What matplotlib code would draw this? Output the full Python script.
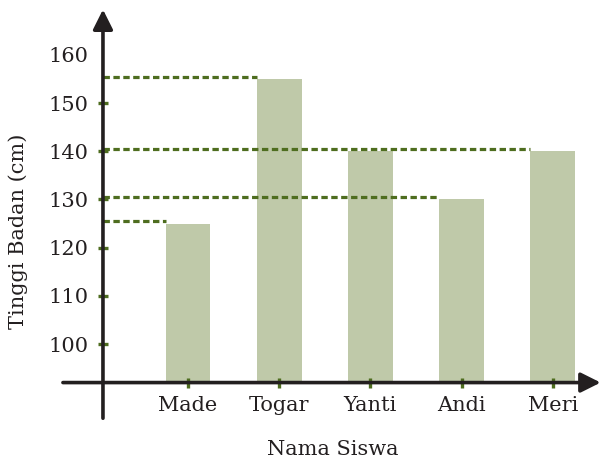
import matplotlib.pyplot as plt
import numpy as np

names = ['Made', 'Togar', 'Yanti', 'Andi', 'Meri']
heights = [125, 155, 140, 130, 140]
yticks = [100, 110, 120, 130, 140, 150, 160]

green = '#4e6d1f'
bar_col = '#bfc9a9'
ink = '#231f20'
plt.rcParams['font.family'] = 'DejaVu Serif'

fig = plt.figure(figsize=(6.01, 4.62), dpi=100)
ax = fig.add_axes([0, 0, 1, 1])
ax.set_xlim(-2.061, 4.529)
ax.set_ylim(75.52, 171.37)

x = np.arange(len(names))
w = 0.49
y0 = 92
ax.bar(x, np.array(heights) - y0, bottom=y0, width=w, color=bar_col, zorder=1)

# dashed guide lines from the y axis to the last bar with each height
xaxis = -0.932
for v in sorted(set(heights)):
    last = max(i for i, h in enumerate(heights) if h == v)
    ax.plot([xaxis, last - w / 2], [v + 0.45, v + 0.45], color=green, lw=2.3,
            dashes=(2.0, 1.1), zorder=2)

# axes with arrows
arrow = dict(arrowstyle='-|>', lw=2.6, color=ink, mutation_scale=30,
             shrinkA=0, shrinkB=0)
ax.annotate('', xy=(4.525, y0), xytext=(-1.371, y0), arrowprops=arrow,
            annotation_clip=False, zorder=3)
ax.annotate('', xy=(xaxis, 169.4), xytext=(xaxis, 84.6), arrowprops=arrow,
            annotation_clip=False, zorder=3)

for s in ax.spines.values():
    s.set_visible(False)
ax.spines['left'].set_position(('data', xaxis))
ax.spines['bottom'].set_position(('data', y0))

ax.set_yticks(yticks)
ax.set_yticklabels([str(t) for t in yticks])
ax.set_xticks(x)
ax.set_xticklabels(names)
ax.tick_params(axis='both', direction='inout', length=7, width=2.4, color=green,
               labelsize=15, labelcolor=ink)
ax.tick_params(axis='y', pad=7)
ax.tick_params(axis='x', pad=6)
ax.yaxis.get_major_ticks()[-1].tick1line.set_visible(False)
for t in ax.get_xticklines() + ax.get_yticklines():
    t.set_zorder(4)

ax.text(0.0296, 0.5, 'Tinggi Badan (cm)', transform=ax.transAxes, rotation=90,
        ha='center', va='center', fontsize=15, color=ink)
ax.text(0.554, 0.026, 'Nama Siswa', transform=ax.transAxes,
        ha='center', va='center', fontsize=15, color=ink)

fig.savefig('out.png', dpi=100)
